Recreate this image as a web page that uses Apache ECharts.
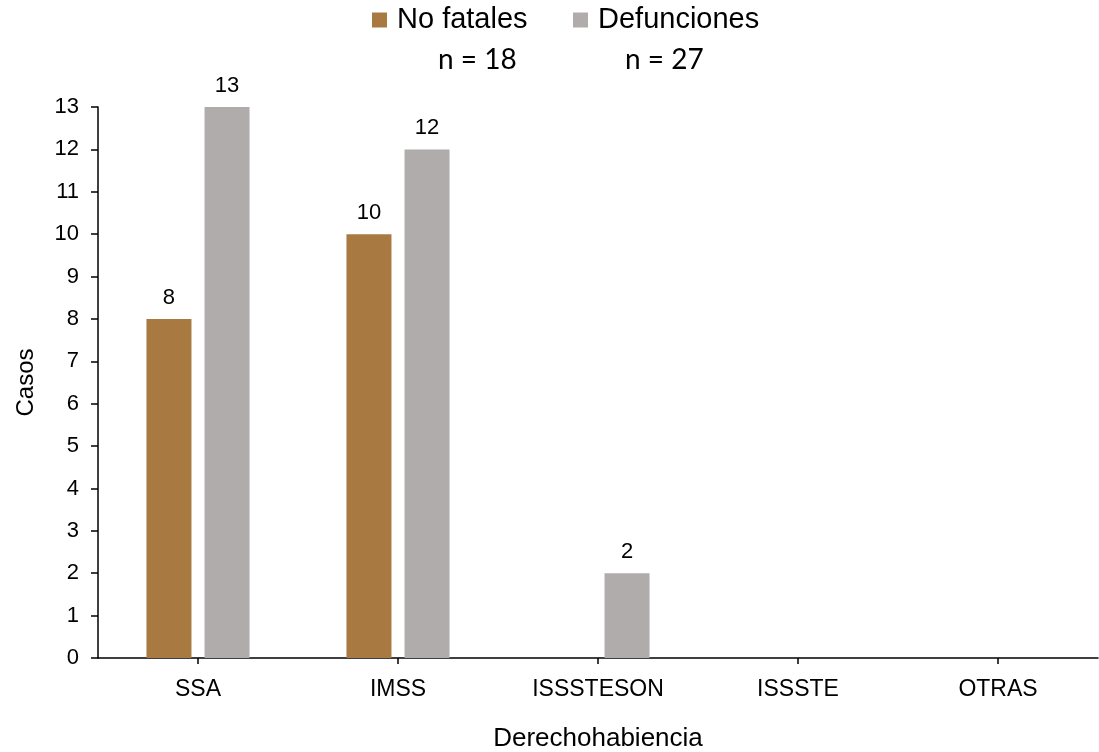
<!DOCTYPE html>
<html>
<head>
<meta charset="utf-8">
<script src="https://cdn.jsdelivr.net/npm/echarts@6/dist/echarts.min.js"></script>
<style>html,body{margin:0;padding:0;background:#fff;}#c{width:1099px;height:752px;}</style>
</head>
<body>
<div id="c"></div>
<script>
const categories = ['SSA', 'IMSS', 'ISSSTESON', 'ISSSTE', 'OTRAS'];
const noFatales = [8, 10, 0, 0, 0];
const defunciones = [13, 12, 2, 0, 0];
const seriesNames = ['No fatales', 'Defunciones'];
const nLabels = ['n = 18', 'n = 27'];
const yMin = 0, yMax = 13, yInterval = 1;

const FONT = '"Liberation Sans", Arial, sans-serif';
const chart = echarts.init(document.getElementById('c'), null, {renderer: 'canvas'});
const labelCfg = {
  show: true, position: 'top', distance: 10,
  fontFamily: FONT, fontSize: 22, color: '#000',
  formatter: p => (p.value === 0 ? '' : String(p.value))
};
chart.setOption({
  animation: false,
  backgroundColor: '#fff',
  grid: {left: 98, right: 1, top: 107, bottom: 94, containLabel: false, outerBoundsMode: 'none'},
  legend: [
    {data: [seriesNames[0]], left: 372, top: 5, padding: 0, itemWidth: 15, itemHeight: 15, icon: 'rect',
     textStyle: {fontFamily: FONT, fontSize: 29, color: '#000', lineHeight: 30, padding: [0, 0, 0, 5]}},
    {data: [seriesNames[1]], left: 573, top: 5, padding: 0, itemWidth: 15, itemHeight: 15, icon: 'rect',
     textStyle: {fontFamily: FONT, fontSize: 29, color: '#000', lineHeight: 30, padding: [0, 0, 0, 5]}}
  ],
  graphic: [
    {type: 'text', left: 438, top: 46, style: {text: nLabels[0], font: '28px Lato, "Open Sans", sans-serif', fill: '#000'}},
    {type: 'text', left: 625, top: 46, style: {text: nLabels[1], font: '28px Lato, "Open Sans", sans-serif', fill: '#000'}}
  ],
  xAxis: {
    type: 'category', data: categories,
    name: 'Derechohabiencia', nameLocation: 'middle', nameGap: 68,
    nameTextStyle: {fontFamily: FONT, fontSize: 26, color: '#000'},
    axisLine: {lineStyle: {color: '#000', width: 1.5}},
    axisTick: {show: true, alignWithLabel: true, length: 6, lineStyle: {color: '#000', width: 1.5}},
    axisLabel: {fontFamily: FONT, fontSize: 23, color: '#000', margin: 20}
  },
  yAxis: {
    type: 'value', min: yMin, max: yMax, interval: yInterval,
    name: 'Casos', nameLocation: 'middle', nameGap: 60, nameRotate: 90,
    nameTextStyle: {fontFamily: FONT, fontSize: 24, color: '#000'},
    axisLine: {show: true, lineStyle: {color: '#000', width: 1.5}},
    axisTick: {show: true, length: 7, lineStyle: {color: '#000', width: 1.5}},
    splitLine: {show: false},
    axisLabel: {fontFamily: FONT, fontSize: 22, color: '#000', margin: 19}
  },
  series: [
    {name: seriesNames[0], type: 'bar', data: noFatales, barWidth: 45, barGap: '29%',
     itemStyle: {color: '#A97942'}, label: labelCfg},
    {name: seriesNames[1], type: 'bar', data: defunciones, barWidth: 45,
     itemStyle: {color: '#AFACAB'}, label: labelCfg}
  ]
});
</script>
</body>
</html>
